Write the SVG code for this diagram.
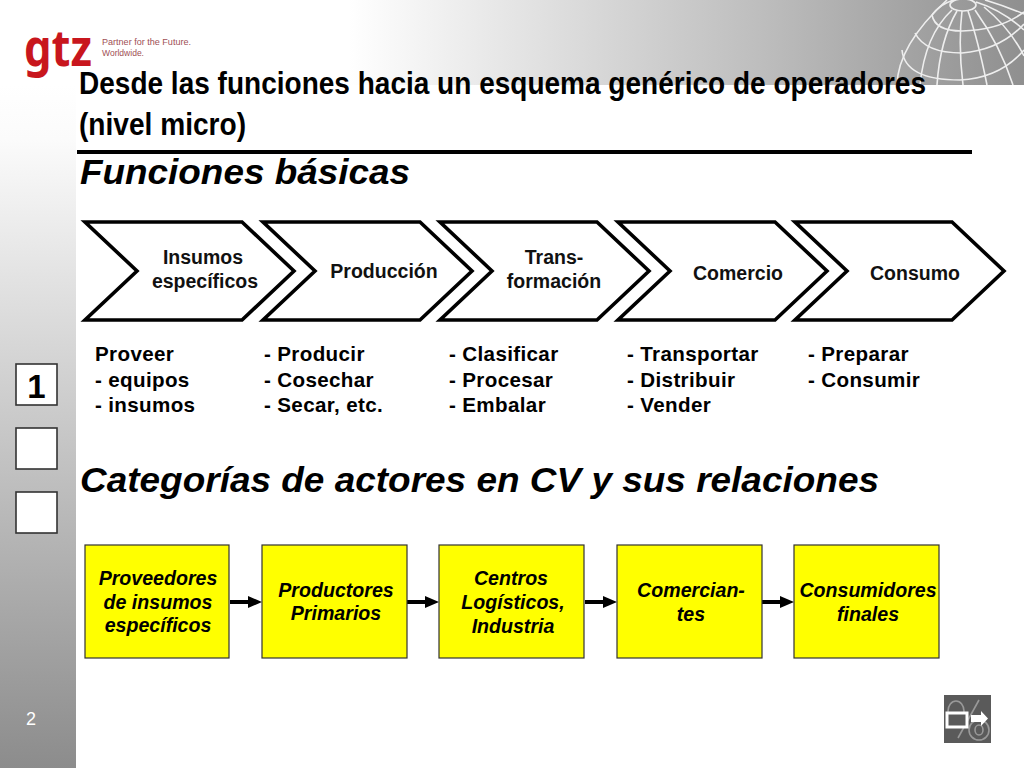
<svg xmlns="http://www.w3.org/2000/svg" width="1024" height="768" viewBox="0 0 1024 768">
<style>
text{font-family:"Liberation Sans",Arial,sans-serif;fill:#000}
.b{font-weight:700}
.bi{font-weight:700;font-style:italic}
.chev{fill:#fff;stroke:#000;stroke-width:3.6;stroke-linejoin:miter}
.cl{font-size:19.5px;font-weight:700;text-anchor:middle;fill:#111}
.fn{font-size:20.6px;font-weight:700;letter-spacing:.35px}
.box{fill:#ff0;stroke:#333;stroke-width:1.2}
.bl{font-size:19.6px;font-weight:700;font-style:italic;text-anchor:middle}
.side{fill:#fff;stroke:#333;stroke-width:1.6}
.conn{stroke:#000;stroke-width:4;fill:none;marker-end:url(#ah)}
.g{fill:none;stroke:#eee;stroke-width:1.6}
</style>
<defs>
<linearGradient id="top" x1="0" x2="1" y1="0" y2="0"><stop offset="0" stop-color="#fff"/><stop offset=".34" stop-color="#fff"/><stop offset=".74" stop-color="#bebebe"/><stop offset="1" stop-color="#8f8f8f"/></linearGradient>
<linearGradient id="left" x1="0" x2="0" y1="0" y2="1"><stop offset="0" stop-color="#fff"/><stop offset=".08" stop-color="#fbfbfb"/><stop offset="1" stop-color="#8c8c8c"/></linearGradient>
<marker id="ah" markerUnits="userSpaceOnUse" markerWidth="14" markerHeight="12" refX="6" refY="6" orient="auto"><path d="M0 0L14 6L0 12Z" fill="#000"/></marker>
<polygon id="chevron" class="chev" points="3,0 160,0 212,49 160,98 3,98 55,49"/>
</defs>
<rect width="1024" height="768" fill="#fff"/>
<rect width="1024" height="85" fill="url(#top)"/>
<rect y="85" width="76" height="683" fill="url(#left)"/>
<g id="globe">
<ellipse cx="963" cy="5" rx="13" ry="6" class="g"/>
<path class="g" d="M932 15Q935 31 962 31Q1000 30 1024 12M932 15Q940 4 954 0"/>
<path class="g" d="M915 33Q925 53 962 53Q1000 50 1024 24"/>
<path class="g" stroke-width="2" d="M902 50Q905 80 960 80Q1000 78 1024 50"/>
<path class="g" d="M897 85Q898 45 947 0"/>
<path class="g" d="M952 10Q925 35 920 85M957 11Q940 40 937 85M962 11Q958 45 963 85M968 11Q978 40 987 85M975 10Q1000 45 1013 85M984 7Q1010 28 1024 56M976 2Q1002 10 1024 30M985 0Q1005 6 1024 14"/>
</g>
<g id="logo">
<text x="24" y="66" font-size="50" font-weight="700" style="fill:#c8161d;font-family:'Noto Sans',sans-serif" textLength="68" lengthAdjust="spacingAndGlyphs">gtz</text>
<text x="102" y="45" font-size="9" style="fill:#a05055" textLength="89" lengthAdjust="spacingAndGlyphs">Partner for the Future.</text>
<text x="102" y="56" font-size="9" style="fill:#a05055" textLength="42" lengthAdjust="spacingAndGlyphs">Worldwide.</text>
</g>
<g id="title">
<text class="b" x="79" y="94" font-size="31" textLength="847" lengthAdjust="spacingAndGlyphs">Desde las funciones hacia un esquema genérico de operadores</text>
<text class="b" x="79" y="135" font-size="31" textLength="167" lengthAdjust="spacingAndGlyphs">(nivel micro)</text>
<rect x="77" y="150" width="895" height="4" fill="#000"/>
<text class="bi" x="80" y="184" font-size="35" textLength="330" lengthAdjust="spacingAndGlyphs">Funciones básicas</text>
</g>
<g id="chevron-1"><use href="#chevron" x="82" y="222"/><text class="cl" x="203" y="263.500">Insumos</text><text class="cl" x="205" y="287.500">específicos</text></g>
<g id="chevron-2"><use href="#chevron" x="260" y="222"/><text class="cl" x="384" y="277.500">Producción</text></g>
<g id="chevron-3"><use href="#chevron" x="437" y="222"/><text class="cl" x="554" y="263.500">Trans-</text><text class="cl" x="554" y="287.500">formación</text></g>
<g id="chevron-4"><use href="#chevron" x="615" y="222"/><text class="cl" x="738" y="279.500">Comercio</text></g>
<g id="chevron-5"><use href="#chevron" x="792" y="222"/><text class="cl" x="915" y="279.500">Consumo</text></g>
<g id="functions">
<text class="fn" x="95" y="361">Proveer</text><text class="fn" x="95" y="387">- equipos</text><text class="fn" x="95" y="412">- insumos</text>
<text class="fn" x="264" y="361">- Producir</text><text class="fn" x="264" y="387">- Cosechar</text><text class="fn" x="264" y="412">- Secar, etc.</text>
<text class="fn" x="449" y="361">- Clasificar</text><text class="fn" x="449" y="387">- Procesar</text><text class="fn" x="449" y="412">- Embalar</text>
<text class="fn" x="627" y="361">- Transportar</text><text class="fn" x="627" y="387">- Distribuir</text><text class="fn" x="627" y="412">- Vender</text>
<text class="fn" x="808" y="361">- Preparar</text><text class="fn" x="808" y="387">- Consumir</text>
</g>
<text id="subtitle" class="bi" x="80" y="492" font-size="35" textLength="799" lengthAdjust="spacingAndGlyphs">Categorías de actores en CV y sus relaciones</text>
<g id="side-1"><rect class="side" x="16" y="364" width="41" height="41"/><text x="36.500" y="398" font-size="33" class="b" text-anchor="middle">1</text></g>
<g id="side-2"><rect class="side" x="16" y="428" width="41" height="41"/></g>
<g id="side-3"><rect class="side" x="16" y="492" width="41" height="41"/></g>
<text id="page" x="26" y="725" font-size="18" style="fill:#fff">2</text>
<g id="connectors">
<path class="conn" d="M230 602H254"/><path class="conn" d="M407 602H431"/><path class="conn" d="M585 602H609"/><path class="conn" d="M762 602H786"/>
</g>
<g id="box-1"><rect class="box" x="85" y="545" width="144" height="113"/><text class="bl" x="158" y="585">Proveedores</text><text class="bl" x="158" y="609">de insumos</text><text class="bl" x="158" y="632">específicos</text></g>
<g id="box-2"><rect class="box" x="262" y="545" width="145" height="113"/><text class="bl" x="336" y="597">Productores</text><text class="bl" x="336" y="620">Primarios</text></g>
<g id="box-3"><rect class="box" x="439" y="545" width="145" height="113"/><text class="bl" x="511" y="585">Centros</text><text class="bl" x="513" y="609">Logísticos,</text><text class="bl" x="513" y="633">Industria</text></g>
<g id="box-4"><rect class="box" x="617" y="545" width="145" height="113"/><text class="bl" x="691" y="597">Comercian-</text><text class="bl" x="691" y="621">tes</text></g>
<g id="box-5"><rect class="box" x="794" y="545" width="145" height="113"/><text class="bl" x="868" y="597">Consumidores</text><text class="bl" x="868" y="621">finales</text></g>
<g id="nav-icon">
<rect x="944" y="695" width="47" height="48" fill="#5a5a5a"/>
<g fill="none" stroke="#999" stroke-width="1.6"><ellipse cx="956" cy="711" rx="8" ry="10"/><ellipse cx="979" cy="730" rx="10" ry="10"/><ellipse cx="979" cy="730" rx="4" ry="5"/><path d="M979 700L958 738"/></g>
<rect x="947" y="713" width="20" height="14" fill="#5a5a5a" stroke="#fff" stroke-width="3"/>
<path d="M971 715H981V711L988 718.500L981 726V722H971Z" fill="#fff"/>
</g>
</svg>
